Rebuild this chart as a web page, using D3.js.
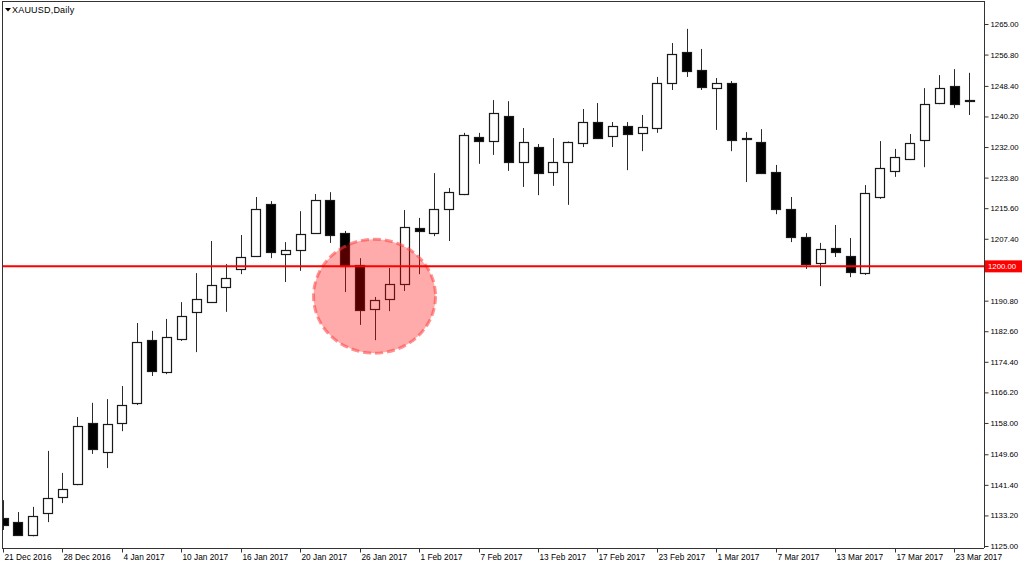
<!DOCTYPE html>
<html><head><meta charset="utf-8">
<script src="https://cdn.jsdelivr.net/npm/d3@7"></script>
<style>
html,body{margin:0;padding:0;background:#fff;}
svg{display:block;}
</style>
</head><body>
<svg id="chart" width="1024" height="568"></svg>
<script>
const symbolTitle = "XAUUSD,Daily";
const dates = ["21 Dec 2016","22 Dec 2016","23 Dec 2016","27 Dec 2016","28 Dec 2016","29 Dec 2016","30 Dec 2016","3 Jan 2017",
"4 Jan 2017","5 Jan 2017","6 Jan 2017","9 Jan 2017","10 Jan 2017","11 Jan 2017","12 Jan 2017","13 Jan 2017",
"16 Jan 2017","17 Jan 2017","18 Jan 2017","19 Jan 2017","20 Jan 2017","23 Jan 2017","24 Jan 2017","25 Jan 2017",
"26 Jan 2017","27 Jan 2017","30 Jan 2017","31 Jan 2017","1 Feb 2017","2 Feb 2017","3 Feb 2017","6 Feb 2017",
"7 Feb 2017","8 Feb 2017","9 Feb 2017","10 Feb 2017","13 Feb 2017","14 Feb 2017","15 Feb 2017","16 Feb 2017",
"17 Feb 2017","20 Feb 2017","21 Feb 2017","22 Feb 2017","23 Feb 2017","24 Feb 2017","27 Feb 2017","28 Feb 2017",
"1 Mar 2017","2 Mar 2017","3 Mar 2017","6 Mar 2017","7 Mar 2017","8 Mar 2017","9 Mar 2017","10 Mar 2017",
"13 Mar 2017","14 Mar 2017","15 Mar 2017","16 Mar 2017","17 Mar 2017","20 Mar 2017","21 Mar 2017","22 Mar 2017",
"23 Mar 2017","24 Mar 2017"];
const opens  = [1132.5,1131.4,1127.9,1133.9,1138.1,1141.6,1158.0,1150.2,1158.0,1163.4,1180.2,1171.7,1180.5,1187.8,1190.4,1194.5,
1199.3,1202.8,1216.7,1203.3,1204.4,1208.9,1217.8,1208.9,1200.4,1188.6,1191.2,1195.3,1210.3,1208.9,1215.4,1219.4,
1234.7,1233.6,1240.3,1228.0,1232.0,1225.3,1228.0,1233.1,1238.7,1235.0,1237.6,1235.8,1237.1,1249.2,1257.5,1252.7,
1247.8,1249.2,1234.4,1233.4,1225.3,1215.4,1207.9,1200.9,1204.9,1202.8,1198.2,1218.6,1225.6,1228.8,1233.9,1243.8,
1248.4,1244.6];
const highs  = [1137.3,1134.1,1135.5,1150.5,1144.6,1159.6,1163.4,1164.4,1167.9,1184.8,1182.7,1185.9,1190.4,1198.2,1206.8,1200.6,
1208.4,1218.6,1217.5,1206.5,1214.8,1219.4,1219.9,1209.5,1202.2,1191.8,1199.6,1215.1,1213.0,1225.0,1221.0,1235.8,
1235.8,1244.6,1244.3,1237.1,1232.8,1234.4,1233.5,1242.2,1243.8,1238.7,1238.7,1240.6,1250.8,1259.9,1263.7,1258.3,
1250.5,1249.7,1236.0,1236.8,1227.2,1218.6,1208.9,1206.3,1211.1,1207.6,1221.8,1233.6,1231.5,1235.5,1247.8,1251.3,
1252.9,1251.9];
const lows   = [1129.3,1127.7,1127.6,1131.4,1136.5,1141.3,1149.7,1145.9,1155.8,1162.8,1170.6,1171.1,1180.0,1177.0,1190.3,1187.8,
1197.9,1202.5,1202.2,1195.8,1198.8,1208.7,1206.3,1193.1,1184.3,1180.2,1188.0,1193.4,1197.9,1208.1,1206.8,1219.1,
1227.5,1229.9,1225.6,1221.3,1219.1,1221.6,1216.5,1232.0,1234.3,1232.0,1225.8,1230.9,1235.8,1247.3,1250.8,1247.3,
1236.6,1230.9,1222.6,1224.8,1214.0,1206.5,1199.3,1194.7,1202.5,1197.1,1197.7,1218.1,1224.0,1228.5,1226.6,1243.5,
1242.5,1240.6];
const closes = [1130.6,1127.9,1133.0,1137.9,1140.3,1157.2,1151.0,1157.7,1162.8,1179.7,1171.9,1181.1,1186.7,1191.2,1195.0,1196.9,
1202.5,1215.4,1203.8,1204.4,1208.7,1217.8,1208.4,1200.1,1188.3,1191.0,1195.3,1210.6,1209.5,1215.4,1219.9,1235.2,
1233.6,1241.1,1228.0,1233.4,1225.0,1228.0,1233.4,1238.7,1234.4,1237.6,1235.5,1237.4,1249.2,1257.0,1252.4,1248.1,
1249.2,1233.9,1234.0,1225.0,1215.4,1207.9,1200.6,1204.7,1203.8,1198.5,1219.7,1226.4,1229.3,1233.1,1243.5,1247.8,
1243.5,1244.5];
const yTickValues = [1265.0,1256.8,1248.4,1240.2,1232.0,1223.8,1215.6,1207.4,1199.2,1190.8,1182.6,1174.4,1166.2,1158.0,1149.6,1141.4,1133.2,1125.0];
const yTickLabels = ["1265.00","1256.80","1248.40","1240.20","1232.00","1223.80","1215.60","1207.40","1199.20","1190.80","1182.60","1174.40","1166.20","1158.00","1149.60","1141.40","1133.20","1125.00"];
const levelValue = 1200.0;
const levelLabel = "1200.00";
const highlightCenter = {index: 25, price: 1192.0};

(function () {
const svg = d3.select("#chart");
const L = 2, T = 1, R = 984, B = 548;
const x = d3.scaleLinear().domain([0, dates.length - 1]).range([3, 969]);
const y = d3.scaleLinear().domain([1125, 1265]).range([546, 24]);

const data = dates.map((d, i) => ({i, date: d, o: opens[i], h: highs[i], l: lows[i], c: closes[i]}));

svg.append("clipPath").attr("id", "clip").append("rect")
  .attr("x", L + 1).attr("y", T + 1).attr("width", R - L - 1).attr("height", B - T - 1);
const plot = svg.append("g").attr("clip-path", "url(#clip)");

const px = v => Math.round(v) + 0.5;
const candles = plot.selectAll("g.c").data(data).enter().append("g").attr("class", "c");
candles.append("line")
  .attr("x1", d => px(x(d.i))).attr("x2", d => px(x(d.i)))
  .attr("y1", d => y(d.h)).attr("y2", d => y(d.l))
  .attr("stroke", "#2a2a2a").attr("stroke-width", 1);
const bw = 9;
candles.append("rect")
  .attr("x", d => Math.round(x(d.i) - bw / 2) + 0.5)
  .attr("y", d => Math.round(y(Math.max(d.o, d.c))) + 0.5)
  .attr("width", bw)
  .attr("height", d => Math.max(1, Math.round(Math.abs(y(d.o) - y(d.c)))))
  .attr("fill", d => d.c >= d.o ? "#fff" : "#000")
  .attr("stroke", "#1a1a1a").attr("stroke-width", 1.2);

// highlight ellipse
const cx = x(highlightCenter.index);
const cy = y(highlightCenter.price);
plot.append("ellipse")
  .attr("cx", cx).attr("cy", cy).attr("rx", 61).attr("ry", 57)
  .attr("fill", "rgba(255,0,0,0.33)")
  .attr("stroke", "rgba(255,60,60,0.55)")
  .attr("stroke-width", 3).attr("stroke-dasharray", "8,4");

// level line
plot.append("line")
  .attr("x1", L).attr("x2", R)
  .attr("y1", y(levelValue)).attr("y2", y(levelValue))
  .attr("stroke", "#ff0000").attr("stroke-width", 2);

// frame
svg.append("line").attr("x1", L + 0.5).attr("x2", L + 0.5).attr("y1", T).attr("y2", B)
  .attr("stroke", "#333").attr("stroke-width", 1);
svg.append("line").attr("x1", L).attr("x2", R).attr("y1", T + 0.5).attr("y2", T + 0.5)
  .attr("stroke", "#333").attr("stroke-width", 1);

// y axis
const yAxis = d3.axisRight(y).tickValues(yTickValues).tickFormat((d, i) => yTickLabels[i]).tickSize(4).tickPadding(2).tickSizeOuter(0);
const gy = svg.append("g").attr("transform", `translate(${R + 0.5},0)`).call(yAxis);
gy.select(".domain").attr("d", `M0,${T}V${B}`).attr("stroke", "#333");
gy.selectAll(".tick line").attr("stroke", "#333");
gy.selectAll("text").attr("font-family", "'Liberation Sans', Arial, sans-serif").attr("font-size", "7.8px").attr("fill", "#000");

// x axis
const xTicks = d3.range(0, dates.length, 4);
const xAxis = d3.axisBottom(x).tickValues(xTicks).tickFormat(i => dates[i]).tickSize(4).tickPadding(2).tickSizeOuter(0);
const gx = svg.append("g").attr("transform", `translate(0,${B + 0.5})`).call(xAxis);
gx.select(".domain").attr("d", `M${L},0H${R}`).attr("stroke", "#333");
gx.selectAll(".tick").attr("transform", d => `translate(${px(x(d))},0)`);
gx.selectAll(".tick line").attr("stroke", "#333");
gx.selectAll("text").attr("text-anchor", "start").attr("x", 1).attr("dy", "0.71em")
  .attr("font-family", "'Liberation Sans', Arial, sans-serif").attr("font-size", "8.3px").attr("fill", "#000");

// level price tag (covers the nearby axis label as in the original)
const ly = y(levelValue);
svg.append("rect").attr("x", R + 1).attr("y", ly - 6).attr("width", 37).attr("height", 12).attr("fill", "#ff0000");
svg.append("text").attr("x", R + 4).attr("y", ly + 3)
  .attr("font-family", "'Liberation Sans', Arial, sans-serif").attr("font-size", "7.8px").attr("fill", "#fff")
  .text(levelLabel);

// title
svg.append("path").attr("d", "M5,8L11,8L8,11.5Z").attr("fill", "#000");
svg.append("text").attr("x", 12).attr("y", 13)
  .attr("font-family", "'Liberation Sans', Arial, sans-serif").attr("font-size", "9px").attr("letter-spacing", "0.2px").attr("fill", "#000")
  .text(symbolTitle);
})();
</script>
</body></html>
